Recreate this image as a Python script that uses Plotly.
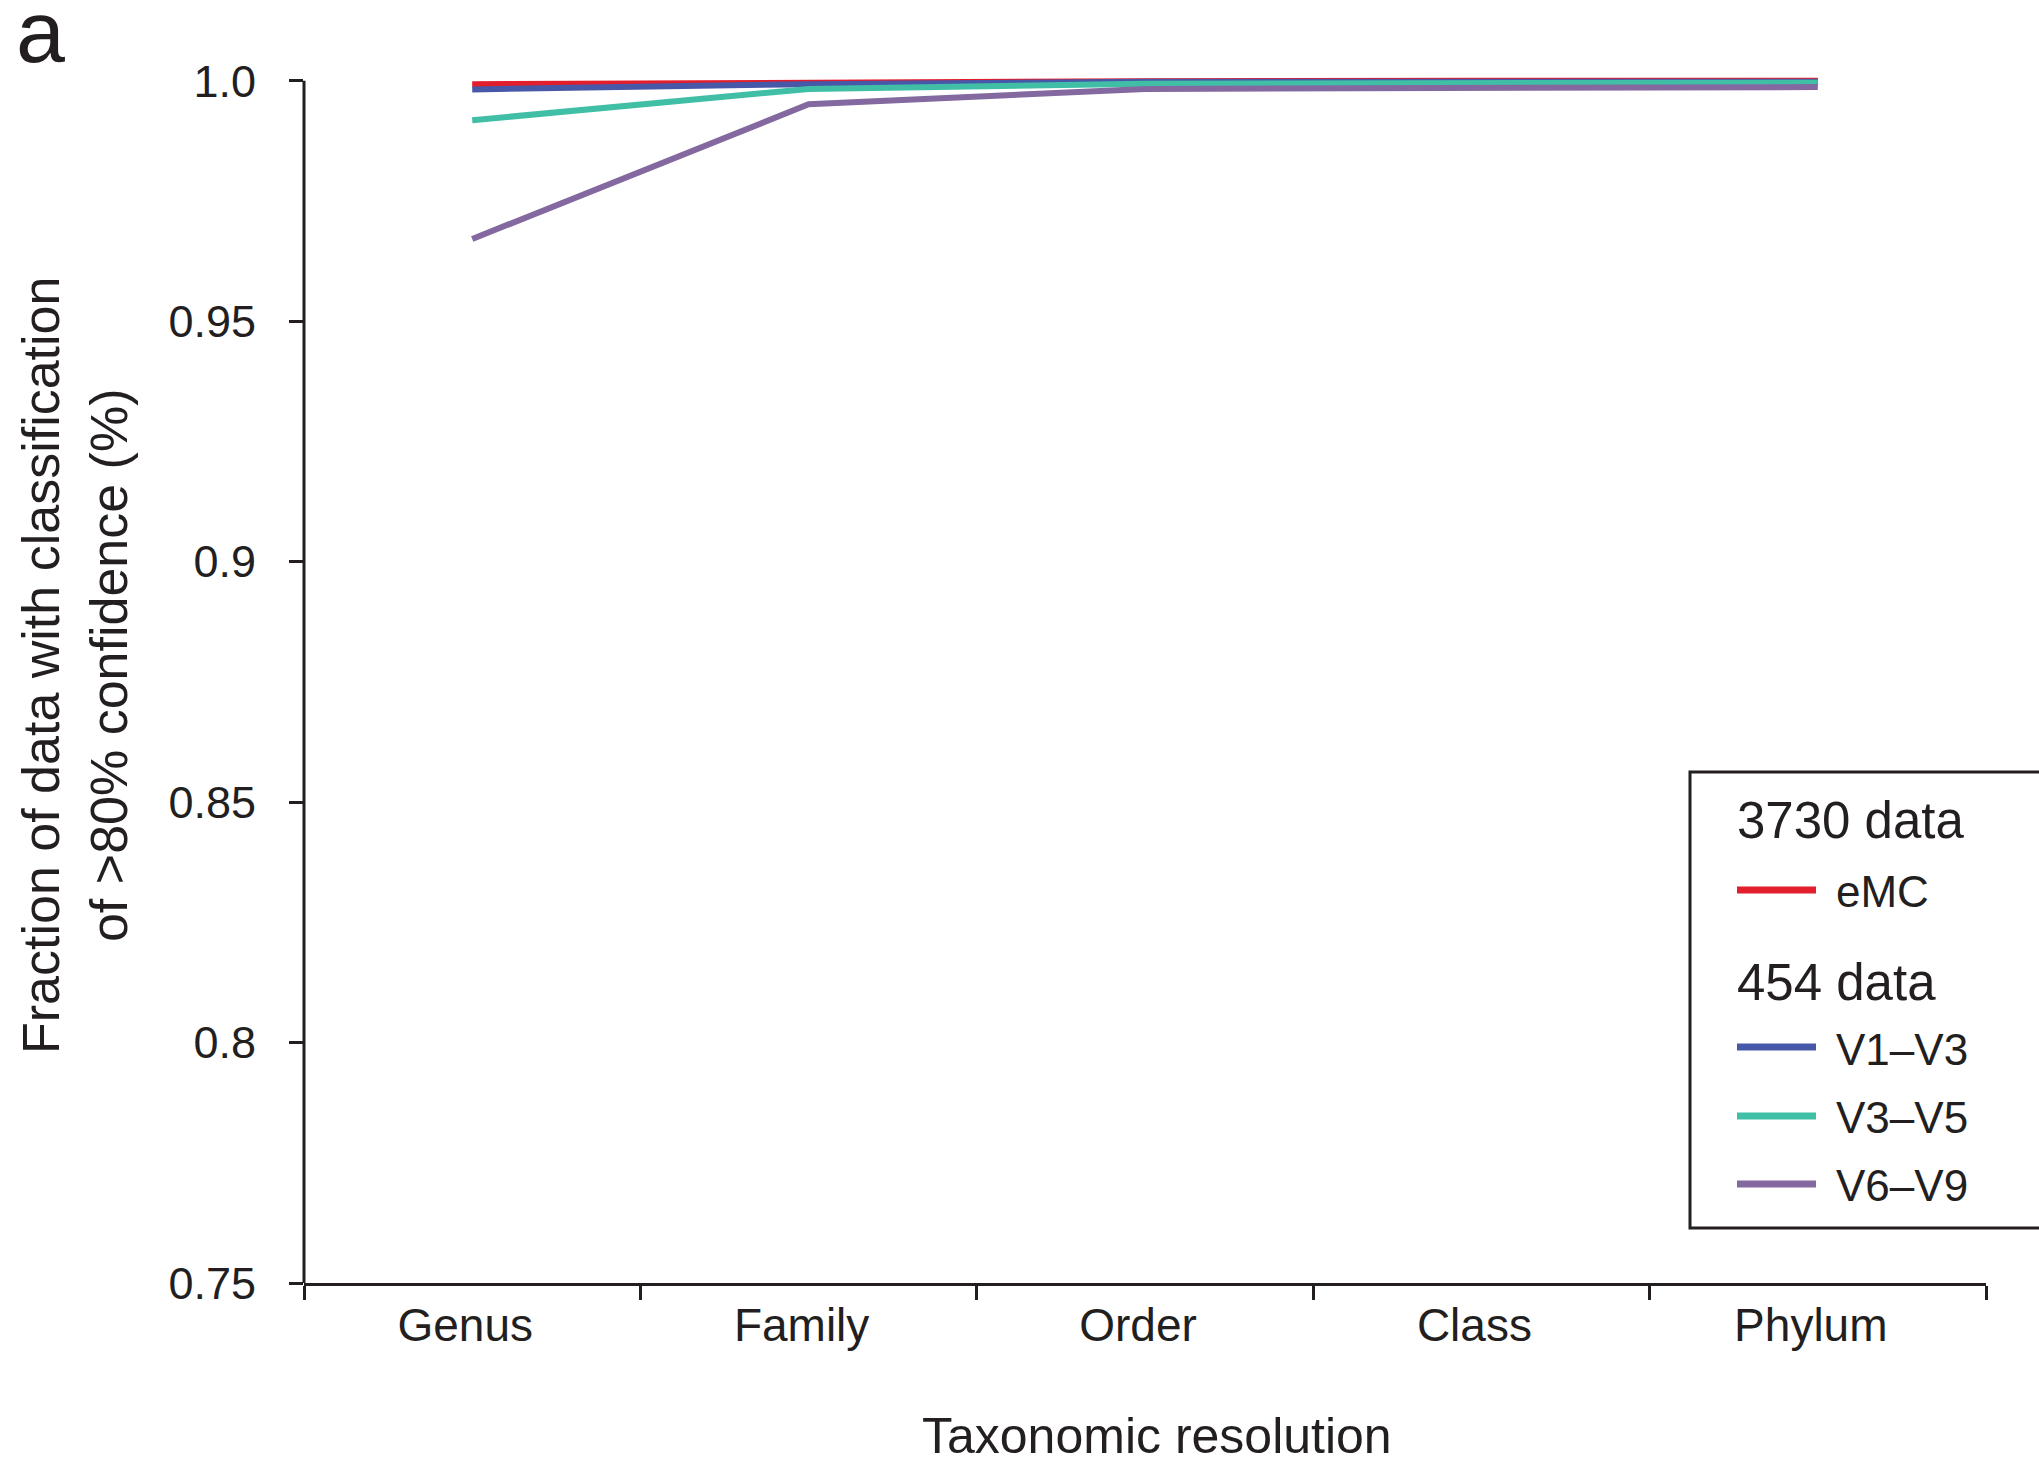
import plotly.graph_objects as go

# ---------------- data ----------------
categories = ["Genus", "Family", "Order", "Class", "Phylum"]
series_names = ["eMC", "V1–V3", "V3–V5", "V6–V9"]
emc_values = [0.9993, 0.9997, 0.9999, 1.0, 1.0]
v1v3_values = [0.9982, 0.9993, 0.9998, 0.9998, 0.9998]
v3v5_values = [0.9918, 0.9983, 0.9994, 0.9995, 0.9996]
v6v9_values = [0.9671, 0.9951, 0.9983, 0.9985, 0.9987]
group_titles = ["3730 data", "454 data"]
y_tick_vals = [0.75, 0.8, 0.85, 0.9, 0.95, 1.0]
y_tick_text = ["0.75", "0.8", "0.85", "0.9", "0.95", "1.0"]

colors = ["#e21d2c", "#4758a8", "#41bfa6", "#8369a0"]
all_values = [emc_values, v1v3_values, v3v5_values, v6v9_values]

W, H = 2039, 1463
L, R, T, B = 304, 1986, 75, 1283
FONT = "Liberation Sans, Arial, sans-serif"
INK = "#231f20"


def px_x(px):
    return (px - L) / (R - L)


def px_y(py):
    return (B - py) / (B - T)


fig = go.Figure()
for name, vals, col in zip(series_names, all_values, colors):
    fig.add_trace(go.Scatter(
        x=categories, y=vals, mode="lines", name=name,
        line=dict(color=col, width=6), showlegend=False,
    ))

fig.update_layout(
    width=W, height=H,
    margin=dict(l=L, r=W - R, t=T, b=H - B, autoexpand=False),
    paper_bgcolor="white", plot_bgcolor="white",
    font=dict(family=FONT, color=INK),
    showlegend=False,
)
fig.update_xaxes(
    type="category", range=[-0.5, 4.5], tickson="boundaries",
    showline=True, linecolor=INK, linewidth=3,
    ticks="outside", ticklen=14, tickwidth=3, tickcolor=INK,
    tickfont=dict(size=46, family=FONT, color=INK), ticklabelshift=-7,
    showgrid=False, zeroline=False,
)
fig.update_yaxes(
    range=[0.75, 1.0012], tickvals=y_tick_vals, ticktext=y_tick_text,
    showline=False, ticks="outside", ticklen=14, tickwidth=3, tickcolor=INK,
    tickfont=dict(size=45, family=FONT, color=INK), ticklabelstandoff=24,
    showgrid=False, zeroline=False,
)

shapes = [
    # y axis line (only up to 1.0)
    dict(type="line", xref="paper", yref="y", x0=0, x1=0, y0=0.75, y1=1.0,
         line=dict(color=INK, width=3)),
    # legend box
    dict(type="rect", xref="paper", yref="paper",
         x0=px_x(1690), x1=px_x(2070), y0=px_y(1228), y1=px_y(772),
         line=dict(color=INK, width=3), fillcolor="rgba(0,0,0,0)"),
]
swatch_y = [890, 1047, 1116, 1184]
text_y = [891, 1049, 1117, 1185]
for col, sy in zip(colors, swatch_y):
    shapes.append(dict(type="line", xref="paper", yref="paper",
                       x0=px_x(1737), x1=px_x(1816), y0=px_y(sy), y1=px_y(sy),
                       line=dict(color=col, width=7)))

annotations = []
for title, ty in zip(group_titles, [820, 982]):
    annotations.append(dict(text=title, xref="paper", yref="paper",
                            x=px_x(1735), y=px_y(ty), xanchor="left", yanchor="middle",
                            showarrow=False, font=dict(size=51, family=FONT, color=INK)))
for name, ty in zip(series_names, text_y):
    annotations.append(dict(text=name, xref="paper", yref="paper",
                            x=px_x(1834), y=px_y(ty), xanchor="left", yanchor="middle",
                            showarrow=False, font=dict(size=44, family=FONT, color=INK)))
# axis titles
annotations.append(dict(text="Taxonomic resolution", xref="paper", yref="paper",
                        x=px_x(1157), y=px_y(1436), xanchor="center", yanchor="middle",
                        showarrow=False, font=dict(size=50, family=FONT, color=INK)))
annotations.append(dict(text="Fraction of data with classification<br>of >80% confidence (%)",
                        xref="paper", yref="paper", x=px_x(75), y=px_y(666),
                        xanchor="center", yanchor="middle", textangle=-90,
                        showarrow=False, font=dict(size=52, family=FONT, color=INK)))
# panel label
annotations.append(dict(text="a", xref="paper", yref="paper",
                        x=px_x(40), y=px_y(32), xanchor="center", yanchor="middle",
                        showarrow=False, font=dict(size=88, family=FONT, color=INK)))

fig.update_layout(shapes=shapes, annotations=annotations)
fig.write_html("out.html")
